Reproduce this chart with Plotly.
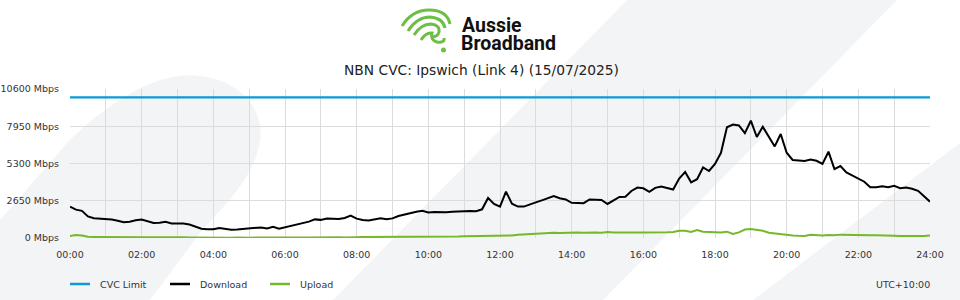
import re
import plotly.graph_objects as go

# ---------------- data ----------------
hours = [i / 6 for i in range(145)]  # 10-minute samples, 00:00 .. 24:00

download = [
    2230, 2020, 1930, 1535, 1400, 1365, 1365, 1310, 1225, 1125,
    1150, 1265, 1310, 1175, 1075, 1085, 1150, 1040, 1040, 1030,
    960, 805, 660, 620, 620, 705, 640, 585, 600, 635,
    660, 720, 755, 685, 795, 660, 760, 880, 960, 1045,
    1165, 1325, 1290, 1385, 1380, 1350, 1420, 1600, 1375, 1280,
    1250, 1325, 1410, 1330, 1395, 1560, 1670, 1765, 1870, 1930,
    1815, 1850, 1835, 1830, 1865, 1890, 1905, 1915, 1905, 2040,
    2845, 2420, 2225, 3295, 2435, 2235, 2235, 2410, 2535, 2680,
    2815, 2980, 2825, 2740, 2505, 2470, 2475, 2745, 2705, 2705,
    2420, 2680, 2925, 2940, 3345, 3585, 3535, 3285, 3565, 3665,
    3550, 3445, 4235, 4695, 3960, 4185, 5015, 4765, 5265, 6060,
    7875, 8065, 8005, 7455, 8345, 7185, 7910, 7185, 6515, 7400,
    6070, 5550, 5515, 5480, 5585, 5495, 5265, 6140, 4895, 5120,
    4665, 4445, 4205, 4005, 3605, 3605, 3685, 3605, 3715, 3545,
    3590, 3505, 3360, 3000, 2580,
]

upload = [
    150, 210, 180, 90, 80, 70, 60, 50, 70, 50,
    60, 40, 50, 60, 30, 50, 60, 70, 40, 50,
    40, 30, 30, 20, 10, 40, 20, 10, 30, 10,
    20, 30, 20, 40, 30, 10, 30, 40, 20, 30,
    40, 50, 60, 70, 50, 60, 40, 70, 60, 70,
    70, 60, 70, 80, 70, 80, 90, 80, 90, 80,
    90, 100, 90, 100, 110, 100, 120, 130, 120, 140,
    120, 160, 150, 150, 180, 230, 260, 300, 330, 350,
    360, 380, 360, 390, 370, 400, 380, 410, 390, 380,
    420, 400, 410, 430, 420, 400, 400, 390, 420, 400,
    410, 430, 520, 520, 430, 570, 450, 430, 400, 400,
    450, 285, 400, 600, 640, 600, 520, 380, 330, 250,
    200, 180, 160, 150, 230, 210, 180, 220, 190, 240,
    220, 200, 210, 200, 190, 200, 170, 180, 160, 150,
    140, 100, 140, 150, 170,
]

cvc_limit = 10000
y_ticks = [0, 2650, 5300, 7950, 10600]
y_tick_labels = ["0 Mbps", "2650 Mbps", "5300 Mbps", "7950 Mbps", "10600 Mbps"]
x_ticks = list(range(0, 25, 2))
x_tick_labels = ["%02d:00" % h for h in x_ticks]

title_text = "NBN CVC: Ipswich (Link 4) (15/07/2025)"
series_names = ["CVC Limit", "Download", "Upload"]
series_colors = ["#0a9ad7", "#000000", "#76b82a"]

# ---------------- layout geometry ----------------
W, H = 960, 300
ML, MR, MT, MB = 70, 30, 89, 62
PW, PH = W - ML - MR, H - MT - MB
FONT = "DejaVu Sans"
GREY_BG = "#f3f4f6"
LOGO_GREEN = "#6cbe45"
TXT = "#333333"
FS = 9.5


def px(x):
    return (x - ML) / PW


def py(y):
    return (H - MB - y) / PH


def path_px(d):
    toks = re.findall(r"[MLCQZ]|-?\d+\.?\d*", d)
    out, nums = [], []
    for t in toks:
        if t in "MLCQZ":
            out.append(t)
        else:
            nums.append(float(t))
            if len(nums) == 2:
                out.append("%.5f,%.5f" % (px(nums[0]), py(nums[1])))
                nums = []
    return " ".join(out)


fig = go.Figure()
fig.add_trace(go.Scatter(x=[0, 24], y=[cvc_limit, cvc_limit], mode="lines",
                         line=dict(color=series_colors[0], width=2.2),
                         name=series_names[0], hoverinfo="skip"))
fig.add_trace(go.Scatter(x=hours, y=download, mode="lines",
                         line=dict(color=series_colors[1], width=2),
                         name=series_names[1]))
fig.add_trace(go.Scatter(x=hours, y=upload, mode="lines",
                         line=dict(color=series_colors[2], width=2),
                         name=series_names[2]))

shapes = []
# background decoration
bg_paths = [
    "M 0 220 L 67 143 C 110 100 160 70 200 76 C 250 82 268 120 258 150 "
    "C 250 180 230 200 200 233 L 150 300 L 0 300 Z",
    "M 627 0 L 897 0 L 603 300 L 333 300 Z",
    "M 960 143 L 960 300 L 753 300 Z",
]
for d in bg_paths:
    shapes.append(dict(type="path", xref="paper", yref="paper", path=path_px(d),
                       fillcolor=GREY_BG, line=dict(width=0), layer="below"))

# logo strokes
logo_paths = [
    "M 402 26 Q 412 10 429 10 Q 447 10 450 24",
    "M 408 31 Q 417 17 430 17 Q 443 18 445 28",
    "M 414 35 Q 421 24 431 24 Q 440 25 439 32 Q 438 37 431 37",
    "M 421 40 Q 426 32 432 33 Q 430 40 437 42 Q 445 43 444 38",
]
for d in logo_paths:
    shapes.append(dict(type="path", xref="paper", yref="paper", path=path_px(d),
                       line=dict(color=LOGO_GREEN, width=3), layer="above"))
shapes.append(dict(type="circle", xref="paper", yref="paper",
                   x0=px(441), x1=px(446), y0=py(52.5), y1=py(47.5),
                   fillcolor=LOGO_GREEN, line=dict(width=0)))

# custom legend
legend_x = [70, 170, 270]
annotations = []
for lx, name, col in zip(legend_x, series_names, series_colors):
    shapes.append(dict(type="line", xref="paper", yref="paper",
                       x0=px(lx), x1=px(lx + 20), y0=py(284), y1=py(284),
                       line=dict(color=col, width=2.5)))
    annotations.append(dict(xref="paper", yref="paper", x=px(lx + 28), y=py(284),
                            text=name, showarrow=False, xanchor="left", yanchor="middle",
                            font=dict(family=FONT, size=FS, color=TXT)))

annotations.append(dict(xref="paper", yref="paper", x=px(932), y=py(284),
                        text="UTC+10:00", showarrow=False, xanchor="right", yanchor="middle",
                        font=dict(family=FONT, size=FS, color=TXT)))
annotations.append(dict(xref="paper", yref="paper", x=px(481), y=py(70),
                        text=title_text, showarrow=False, xanchor="center", yanchor="middle",
                        font=dict(family=FONT, size=13.8, color="#222222")))
annotations.append(dict(xref="paper", yref="paper", x=px(460), y=py(25),
                        text="<b>Aussie</b>", showarrow=False, xanchor="left", yanchor="middle",
                        font=dict(family="Roboto", size=19.5, color="#111111")))
annotations.append(dict(xref="paper", yref="paper", x=px(459), y=py(43),
                        text="<b>Broadband</b>", showarrow=False, xanchor="left", yanchor="middle",
                        font=dict(family="Roboto", size=19.5, color="#111111")))

grid = "#dcdcdc"
fig.update_layout(
    width=W, height=H, autosize=False,
    margin=dict(l=ML, r=MR, t=MT, b=MB, pad=0, autoexpand=False),
    paper_bgcolor="#ffffff", plot_bgcolor="rgba(0,0,0,0)",
    showlegend=False,
    shapes=shapes, annotations=annotations,
    font=dict(family=FONT, size=FS, color=TXT),
    xaxis=dict(range=[0, 24], tickmode="array", tickvals=x_ticks, ticktext=x_tick_labels,
               showgrid=True, gridcolor=grid, gridwidth=1, zeroline=False, showline=False,
               ticks="", ticklabelstandoff=9, automargin=False,
               tickfont=dict(family=FONT, size=FS, color=TXT),
               minor=dict(tickmode="array", tickvals=list(range(1, 24, 2)),
                          showgrid=True, gridcolor=grid, gridwidth=1, ticks="")),
    yaxis=dict(range=[0, 10600], tickmode="array", tickvals=y_ticks, ticktext=y_tick_labels,
               showgrid=True, gridcolor=grid, gridwidth=1.3, zeroline=False, showline=False,
               ticks="", ticklabelstandoff=10, automargin=False,
               tickfont=dict(family=FONT, size=FS, color=TXT)),
)

fig.write_html("out.html")
